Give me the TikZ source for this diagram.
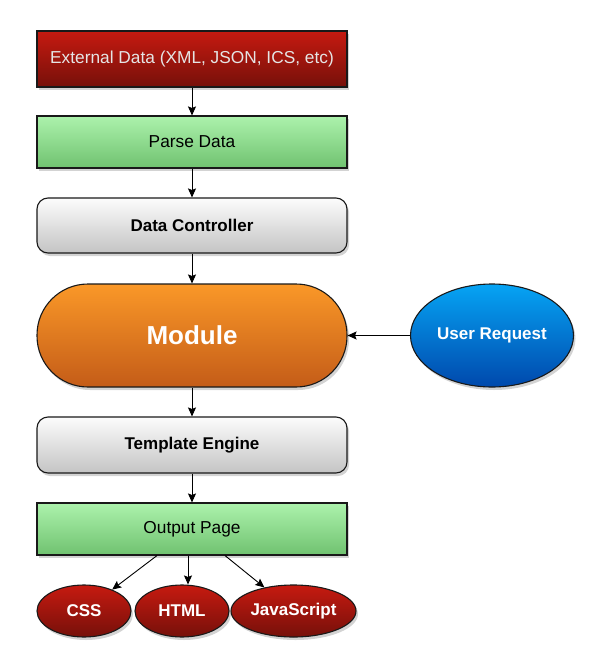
\documentclass[tikz,border=0pt]{standalone}
\usepackage{fontspec}
\setmainfont{Liberation Sans}
\usetikzlibrary{shapes.geometric,shadows,arrows.meta}
\definecolor{redT}{RGB}{198,26,16}
\definecolor{redB}{RGB}{118,16,10}
\definecolor{grnT}{RGB}{172,242,172}
\definecolor{grnB}{RGB}{112,194,112}
\definecolor{gryT}{RGB}{252,252,252}
\definecolor{gryB}{RGB}{196,196,196}
\definecolor{orgT}{RGB}{250,152,40}
\definecolor{orgB}{RGB}{196,92,24}
\definecolor{bluT}{RGB}{6,164,244}
\definecolor{bluB}{RGB}{0,72,172}
\definecolor{edge}{RGB}{25,25,25}
\tikzset{
  base/.style={draw=edge, line width=1.1pt, inner sep=0pt, font=\fontsize{17.3}{19}\selectfont,
    drop shadow={shadow xshift=2pt, shadow yshift=-3pt, opacity=0.35}},
  redbox/.style={base, rectangle, minimum width=310pt, top color=redT, bottom color=redB, text=white!90!black},
  grnbox/.style={base, rectangle, minimum width=310pt, minimum height=52pt, top color=grnT, bottom color=grnB, text=black},
  grybox/.style={base, rectangle, rounded corners=11pt, minimum width=310pt, minimum height=55pt, top color=gryT, bottom color=gryB, text=black, font=\fontsize{17}{19}\selectfont\bfseries},
  modbox/.style={base, rectangle, rounded corners=51pt, minimum width=310pt, minimum height=103pt, top color=orgT, bottom color=orgB, text=white, font=\fontsize{26}{29}\selectfont\bfseries},
  blueell/.style={base, ellipse, minimum width=163pt, minimum height=103pt, top color=bluT, bottom color=bluB, text=white, font=\fontsize{17}{19}\selectfont\bfseries},
  redell/.style={base, ellipse, minimum height=52pt, top color=redT, bottom color=redB, text=white, font=\fontsize{17}{19}\selectfont\bfseries},
  conn/.style={draw=black, line width=0.9pt, -{Stealth[length=9pt,width=8pt,inset=1.5pt]}}
}
\begin{document}
\begin{tikzpicture}[x=1pt,y=-1pt]
\useasboundingbox (0,0) rectangle (592,653);
\node[redbox, minimum height=56pt] (ext) at (192,59) {External Data (XML, JSON, ICS, etc)};
\node[grnbox] (parse) at (192,142) {Parse Data};
\node[grybox] (ctrl) at (192,225.5) {Data Controller};
\node[modbox] (mod) at (192,335.5) {Module};
\node[blueell] (user) at (492,335.5) {User Request};
\node[grybox, minimum height=56pt] (tmpl) at (192,445) {Template Engine};
\node[grnbox] (out) at (192,529) {Output Page};
\node[redell, minimum width=94pt] (css) at (84,611) {CSS};
\node[redell, minimum width=94pt] (html) at (182,611) {HTML};
\node[redell, minimum width=125pt] (js) at (293.5,611) {JavaScript};
\draw[conn] (ext) -- (parse);
\draw[conn] (parse) -- (ctrl);
\draw[conn] (ctrl) -- (mod);
\draw[conn] (user) -- (mod);
\draw[conn] (mod) -- (tmpl);
\draw[conn] (tmpl) -- (out);
\draw[conn] ([xshift=-35pt]out.south) -- (css);
\draw[conn] ([xshift=-4pt]out.south) -- ([xshift=6pt]html.north);
\draw[conn] ([xshift=33pt]out.south) -- (js);
\end{tikzpicture}
\end{document}
